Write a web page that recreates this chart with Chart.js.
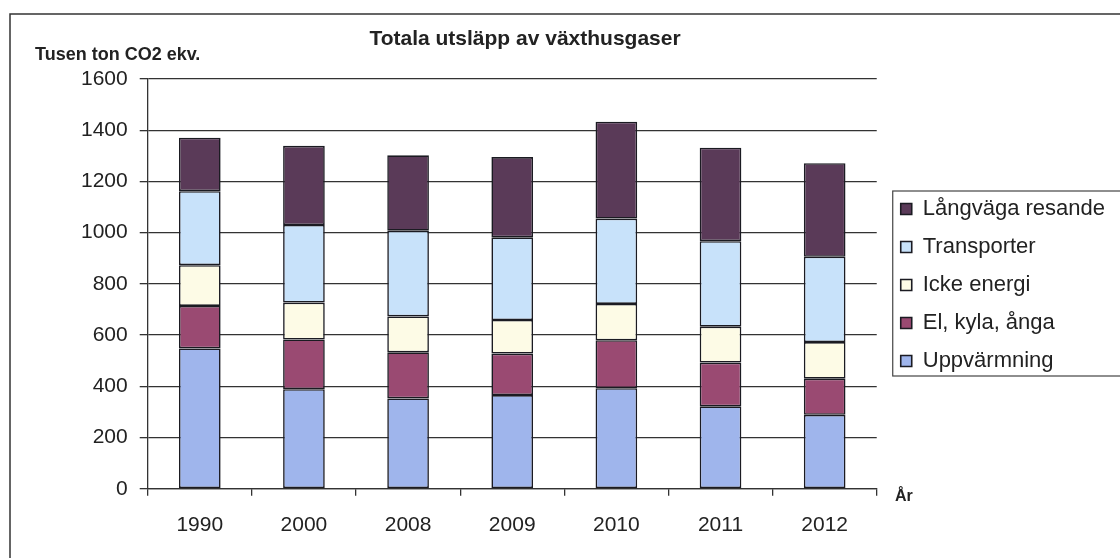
<!DOCTYPE html>
<html>
<head>
<meta charset="utf-8">
<script src="https://cdn.jsdelivr.net/npm/chart.js@4"></script>
<style>
  body { margin: 0; background: #fff; }
  #wrap { width: 1120px; height: 558px; }
</style>
</head>
<body>
<div id="wrap"><canvas id="graphic"></canvas></div>
<script>
const years = ['1990', '2000', '2008', '2009', '2010', '2011', '2012'];
const uppvarmning = [548, 389, 353, 366, 393, 322, 289];
const elKylaAnga = [166, 194, 180, 162, 187, 171, 141];
const ickeEnergi = [159, 144, 140, 131, 142, 140, 143];
const transporter = [289, 303, 335, 323, 333, 334, 333];
const langvaga = [209, 309, 294, 313, 378, 365, 365];
const yTicks = [0, 200, 400, 600, 800, 1000, 1200, 1400, 1600];

const textColor = '#222';
const fontName = '"Liberation Sans", Arial, sans-serif';

const mkSet = (label, data, color) => ({
    label: label,
    data: data,
    backgroundColor: color,
    borderColor: '#1b1b22',
    borderWidth: 1.6,
    borderSkipped: false,
    barPercentage: 0.4,
    categoryPercentage: 1
});

// ramen, titeln, axeltexter och ram runt legenden
const extras = {
    id: 'extras',
    afterLayout(chart) {
        chart.legend.left += 8;
        chart.legend.top -= 32;
        chart.legend.bottom -= 32;
    },
    afterDraw(chart) {
        const ctx = chart.ctx;
        ctx.save();
        ctx.strokeStyle = '#333';
        ctx.lineWidth = 1.5;
        ctx.strokeRect(10, 14, 1200, 600);

        ctx.fillStyle = textColor;
        ctx.font = 'bold 21px ' + fontName;
        ctx.textAlign = 'center';
        ctx.textBaseline = 'alphabetic';
        ctx.fillText('Totala utsläpp av växthusgaser', 525, 45);

        ctx.textAlign = 'left';
        ctx.font = 'bold 18px ' + fontName;
        ctx.fillText('Tusen ton CO2 ekv.', 35, 60);
        ctx.font = 'bold 16px ' + fontName;
        ctx.fillText('År', 895, 501);

        const lg = chart.legend;
        const hb = lg.legendHitBoxes;
        if (hb && hb.length) {
            const top = hb[0].top - 7;
            const last = hb[hb.length - 1];
            const bottom = last.top + last.height + 4;
            ctx.strokeStyle = '#444';
            ctx.lineWidth = 1.2;
            ctx.strokeRect(lg.left + 8, top, 400, bottom - top);
        }
        ctx.restore();
    }
};

const ctx = document.getElementById('graphic');
const graph = new Chart(ctx, {
    type: 'bar',
    data: {
        labels: years,
        datasets: [
            mkSet('Uppvärmning', uppvarmning, '#9fb5ec'),
            mkSet('El, kyla, ånga', elKylaAnga, '#9a4a72'),
            mkSet('Icke energi', ickeEnergi, '#fdfbe6'),
            mkSet('Transporter', transporter, '#c8e2fa'),
            mkSet('Långväga resande', langvaga, '#5a3a58')
        ]
    },
    options: {
        responsive: true,
        maintainAspectRatio: false,
        animation: false,
        layout: {
            padding: { left: 69, top: 79, right: 13, bottom: 3 }
        },
        scales: {
            x: {
                stacked: true,
                offset: true,
                border: { color: '#333', width: 1.3 },
                grid: {
                    offset: true,
                    drawOnChartArea: false,
                    drawTicks: true,
                    tickLength: 7,
                    color: '#333',
                    lineWidth: 1.3
                },
                ticks: {
                    color: textColor,
                    padding: 17,
                    font: { family: fontName, size: 21 }
                }
            },
            y: {
                stacked: true,
                min: 0,
                max: 1600,
                afterBuildTicks: (axis) => {
                    axis.ticks = yTicks.map(v => ({ value: v }));
                },
                border: { color: '#333', width: 1.3 },
                grid: {
                    color: '#333',
                    lineWidth: 1.3,
                    tickLength: 8
                },
                ticks: {
                    color: textColor,
                    padding: 12,
                    font: { family: fontName, size: 21 },
                    callback: (value) => String(value)
                }
            }
        },
        plugins: {
            legend: {
                position: 'right',
                reverse: true,
                labels: {
                    color: textColor,
                    boxWidth: 11,
                    boxHeight: 11,
                    padding: 16,
                    font: { family: fontName, size: 22 }
                }
            },
            tooltip: { enabled: false }
        }
    },
    plugins: [extras]
});
</script>
</body>
</html>
